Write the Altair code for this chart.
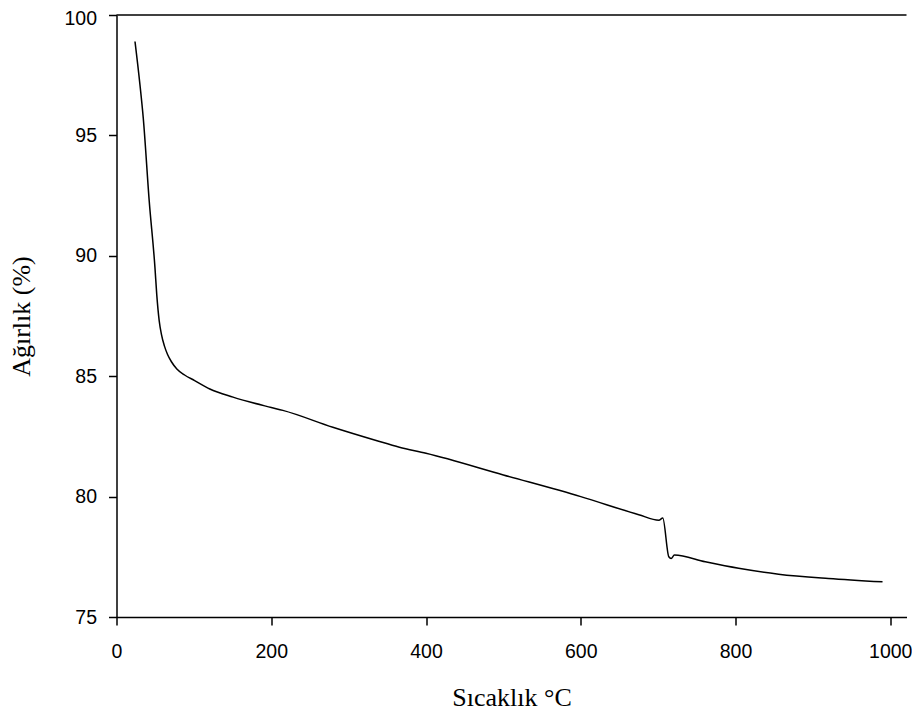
import altair as alt
import pandas as pd

temps = [23.9, 30.3, 34.6, 42.3, 49.7, 52, 55.2, 58, 62, 66, 71, 78, 88, 101, 120.6, 150.6, 200,
         215, 279.6, 335.6, 365.6, 400, 500, 600, 675, 701, 706, 713.8, 716.8, 721,
         761, 804, 855.7, 920, 990]
weights = [98.90, 97.11, 95.72, 92.27, 89.51, 88.4, 87.3, 86.75, 86.25, 85.9, 85.6, 85.3, 85.05,
           84.82, 84.47, 84.13, 83.7, 83.58, 82.88, 82.33, 82.05, 81.8, 80.9, 80.0, 79.25,
           79.02, 79.11, 77.5, 77.43, 77.57, 77.29, 77.02, 76.78, 76.6, 76.46]

df = pd.DataFrame({"t": temps, "w": weights})

x_ticks = [0, 200, 400, 600, 800, 1000]
y_ticks = [75, 80, 85, 90, 95, 100]

line = alt.Chart(df).mark_line(color="black", strokeWidth=1.5, interpolate="monotone").encode(
    x=alt.X("t:Q", scale=alt.Scale(domain=[0, 1021], nice=False, zero=False),
            axis=alt.Axis(title="Sıcaklık °C", values=x_ticks, grid=False, format="d",
                          titleFont="Liberation Serif", titleFontSize=26, titleFontWeight="normal",
                          titlePadding=24, labelFont="Liberation Sans", labelFontSize=19.5,
                          labelPadding=17, tickSize=8, labelFlush=False)),
    y=alt.Y("w:Q", scale=alt.Scale(domain=[75, 100], nice=False, zero=False),
            axis=alt.Axis(title="Ağırlık (%)", values=y_ticks, grid=False, format="d",
                          titleFont="Liberation Serif", titleFontSize=26, titleFontWeight="normal",
                          titlePadding=29, labelFont="Liberation Sans", labelFontSize=19.5,
                          labelPadding=12, tickSize=8, labelFlush=False,
                          labelOffset={"condition": {"test": "datum.value == 100", "value": 3.5},
                                       "value": 0})),
    order="t:Q",
)

top = alt.Chart(pd.DataFrame({"v": [100]})).mark_rule(color="black", strokeWidth=1.5).encode(
    y=alt.Y("v:Q")
)

chart = alt.layer(line, top).properties(
    width=790, height=602,
    autosize=alt.AutoSizeParams(type="none"),
    padding={"left": 108.5, "top": 7, "right": 5.5, "bottom": 100},
).configure_view(stroke=None).configure_axis(
    domainColor="black", tickColor="black", labelColor="black", titleColor="black",
    domainWidth=1.5, tickWidth=1.5,
)

chart.save("out.html", embed_options={"renderer": "svg", "actions": False})
